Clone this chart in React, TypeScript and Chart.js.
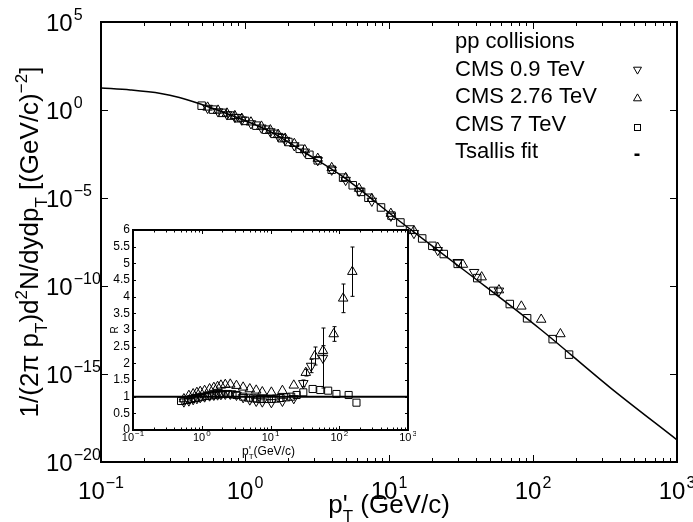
import React, { useEffect, useRef } from 'react';
import { Chart, registerables } from 'chart.js';

Chart.register(...registerables);

const FONT = '"Liberation Sans", Arial, Helvetica, sans-serif';

// Tsallis fit curve (pT in GeV/c, invariant yield)
const fitPt = [0.1, 0.16, 0.26, 0.35, 0.49, 0.88, 1.5, 2.6, 4.6, 12, 36, 112, 340, 1000];
const fitY = [17.8, 13.7, 8.66, 5.13, 2.19, 0.375, 0.0585, 3.85e-3, 2.04e-4, 4.47e-7, 4.8e-10, 3.6e-13, 1.8e-16, 1.8e-19];

// CMS 0.9 TeV
const pt09 = [0.55, 0.65, 0.75, 0.85, 0.95, 1.1, 1.3, 1.5, 1.7, 1.9, 2.2, 2.6, 3.2, 4.0, 5.0, 6.2, 7.6, 10.3, 14.9, 21.8, 30, 39, 58];
const y09 = [1.29, 0.813, 0.552, 0.395, 0.279, 0.171, 0.0977, 0.0598, 0.0327, 0.0193, 9.6e-3, 4.21e-3, 1.38e-3, 3.97e-4, 1.04e-4, 2.51e-5, 6.79e-6, 9.58e-7, 1.0e-7, 1.07e-8, 2.24e-9, 6.07e-10, 5.33e-11];
const r09 = [0.85, 0.88, 0.92, 0.95, 0.98, 1.0, 1.03, 1.05, 1.06, 1.07, 1.08, 1.08, 1.05, 0.98, 0.91, 0.87, 0.85, 0.83, 0.87, 0.95, 1.4, 1.92, 2.16];
const e09 = [0, 0, 0, 0, 0, 0, 0, 0, 0, 0, 0, 0, 0, 0, 0, 0, 0, 0, 0, 0, 0.1, 0.2, 0.9];

// CMS 2.76 TeV
const pt276 = [0.55, 0.65, 0.75, 0.85, 0.95, 1.1, 1.3, 1.5, 1.7, 1.9, 2.2, 2.6, 3.2, 4.0, 5.0, 6.2, 7.6, 10.3, 14.9, 21.8, 32.6, 44, 58, 83, 114, 155];
const y276 = [1.41, 0.953, 0.647, 0.466, 0.328, 0.202, 0.117, 0.0724, 0.0401, 0.0242, 0.0121, 5.35e-3, 1.75e-3, 5.19e-4, 1.40e-4, 3.44e-5, 9.12e-6, 1.30e-6, 1.36e-7, 1.51e-8, 1.66e-9, 3.20e-10, 5.87e-11, 7.0e-12, 1.25e-12, 1.88e-13];
const r276 = [0.93, 1.03, 1.08, 1.12, 1.15, 1.18, 1.23, 1.27, 1.3, 1.34, 1.36, 1.37, 1.33, 1.28, 1.23, 1.19, 1.14, 1.13, 1.18, 1.34, 1.72, 2.22, 2.38, 2.88, 3.95, 4.75];
const e276 = [0, 0, 0, 0, 0, 0, 0, 0, 0, 0, 0, 0, 0, 0, 0, 0, 0, 0, 0, 0, 0.1, 0.27, 0.15, 0.22, 0.43, 0.74];

// CMS 7 TeV
const pt7 = [0.5, 0.6, 0.7, 0.8, 0.9, 1.0, 1.2, 1.4, 1.6, 1.8, 2.0, 2.4, 2.8, 3.2, 4.0, 4.8, 5.6, 6.4, 7.2, 8.8, 10.4, 12, 14, 17, 20, 24, 30, 41, 53, 69, 91, 137, 178];
const y7 = [1.76, 1.05, 0.687, 0.480, 0.340, 0.240, 0.129, 0.0760, 0.0441, 0.0250, 0.0152, 6.22e-3, 2.85e-3, 1.38e-3, 4.06e-4, 1.43e-4, 5.27e-5, 2.23e-5, 1.03e-5, 2.90e-6, 1.00e-6, 4.06e-7, 1.62e-7, 5.02e-8, 1.92e-8, 6.55e-9, 1.81e-9, 2.81e-10, 5.26e-11, 9.44e-12, 1.46e-12, 9.57e-14, 1.26e-14];
const r7 = [0.87, 0.9, 0.93, 0.96, 0.98, 1.0, 1.02, 1.04, 1.06, 1.07, 1.08, 1.08, 1.07, 1.05, 1.0, 0.97, 0.95, 0.94, 0.93, 0.93, 0.93, 0.94, 0.96, 0.98, 1.0, 1.05, 1.13, 1.23, 1.2, 1.18, 1.08, 1.05, 0.82];

// Reference line in the inset
const refPt = [0.1, 1000];
const refR = [1, 1];

// Tick labels
const xTickExps = [-1, 0, 1, 2, 3];
const yTickExps = [-20, -15, -10, -5, 0, 5];
const insetXTickExps = [-1, 0, 1, 2, 3];
const insetYTicks = [0, 0.5, 1, 1.5, 2, 2.5, 3, 3.5, 4, 4.5, 5, 5.5, 6];
const insetYLabels = ['0', '0.5', '1', '1.5', '2', '2.5', '3', '3.5', '4', '4.5', '5', '5.5', '6'];
const legendLabels = ['pp collisions', 'CMS 0.9 TeV', 'CMS 2.76 TeV', 'CMS 7 TeV', 'Tsallis fit'];

type Seg = { t: string; k: 'n' | 'sub' | 'sup'; noAdv?: boolean };

const yTitle: Seg[] = [
  { t: '1/(2π p', k: 'n' },
  { t: 'T', k: 'sub' },
  { t: ')d', k: 'n' },
  { t: '2', k: 'sup' },
  { t: 'N/dydp', k: 'n' },
  { t: 'T', k: 'sub' },
  { t: ' [(GeV/c)', k: 'n' },
  { t: '−2', k: 'sup' },
  { t: ']', k: 'n' },
];
const xTitle: Seg[] = [
  { t: 'p', k: 'n' },
  { t: "'", k: 'n', noAdv: true },
  { t: 'T', k: 'sub' },
  { t: ' (GeV/c)', k: 'n' },
];
const insetXTitle: Seg[] = [
  { t: 'p', k: 'n' },
  { t: "'", k: 'n', noAdv: true },
  { t: 'T', k: 'sub' },
  { t: '(GeV/c)', k: 'n' },
];

function pts(xs: number[], ys: number[]) {
  return xs.map((x, i) => ({ x, y: ys[i] }));
}

function expLabel(e: number) {
  return e < 0 ? '−' + Math.abs(e) : String(e);
}

function drawPower(ctx: CanvasRenderingContext2D, x: number, baseY: number, exp: number, big: number, small: number, raise: number, align: 'center' | 'left') {
  ctx.font = `${big}px ${FONT}`;
  const wb = ctx.measureText('10').width;
  const es = expLabel(exp);
  ctx.font = `${small}px ${FONT}`;
  const we = ctx.measureText(es).width;
  const x0 = align === 'center' ? x - (wb + we + 1) / 2 : x;
  ctx.textAlign = 'left';
  ctx.textBaseline = 'alphabetic';
  ctx.font = `${big}px ${FONT}`;
  ctx.fillText('10', x0, baseY);
  ctx.font = `${small}px ${FONT}`;
  ctx.fillText(es, x0 + wb + 1, baseY - raise);
}

function drawRich(ctx: CanvasRenderingContext2D, segs: Seg[], cx: number, baseY: number, big: number, small: number, drop: number, raise: number) {
  ctx.textAlign = 'left';
  ctx.textBaseline = 'alphabetic';
  const widths = segs.map((s) => {
    ctx.font = `${s.k === 'n' ? big : small}px ${FONT}`;
    return s.noAdv ? 0 : ctx.measureText(s.t).width;
  });
  const total = widths.reduce((a, b) => a + b, 0);
  let x = cx - total / 2;
  segs.forEach((s, i) => {
    ctx.font = `${s.k === 'n' ? big : small}px ${FONT}`;
    const dy = s.k === 'sub' ? drop : s.k === 'sup' ? -raise : 0;
    ctx.fillText(s.t, x, baseY + dy);
    x += widths[i];
  });
}

function drawTri(ctx: CanvasRenderingContext2D, x: number, y: number, r: number, down: boolean) {
  const s = down ? -1 : 1;
  ctx.beginPath();
  ctx.moveTo(x, y - s * r);
  ctx.lineTo(x + r * 0.866, y + s * r * 0.5);
  ctx.lineTo(x - r * 0.866, y + s * r * 0.5);
  ctx.closePath();
  ctx.stroke();
}

const mainDeco = {
  id: 'mainDeco',
  afterDraw(chart: any) {
    const { ctx, chartArea: a } = chart;
    const xs = chart.scales.x;
    const ys = chart.scales.y;
    ctx.save();
    ctx.strokeStyle = '#000';
    ctx.fillStyle = '#000';
    ctx.lineWidth = 1;
    ctx.beginPath();
    for (const d of [-1, 0, 1, 2]) {
      for (let m = 1; m <= 9; m++) {
        const px = Math.round(xs.getPixelForValue(m * Math.pow(10, d))) + 0.5;
        const len = m === 1 ? 7 : 4;
        ctx.moveTo(px, a.bottom);
        ctx.lineTo(px, a.bottom - len);
        ctx.moveTo(px, a.top);
        ctx.lineTo(px, a.top + len);
      }
    }
    for (const e of yTickExps) {
      const py = Math.round(ys.getPixelForValue(Math.pow(10, e))) + 0.5;
      ctx.moveTo(a.left, py);
      ctx.lineTo(a.left + 7, py);
      ctx.moveTo(a.right, py);
      ctx.lineTo(a.right - 7, py);
    }
    ctx.stroke();
    ctx.lineWidth = 2;
    ctx.strokeRect(a.left, a.top, a.right - a.left, a.bottom - a.top);

    for (const e of xTickExps) {
      drawPower(ctx, xs.getPixelForValue(Math.pow(10, e)), a.bottom + 37, e, 24, 16, 11, 'center');
    }
    for (const e of yTickExps) {
      drawPower(ctx, 46, ys.getPixelForValue(Math.pow(10, e)) + 8.5, e, 24, 16, 10.5, 'left');
    }

    // axis titles
    drawRich(ctx, xTitle, (a.left + a.right) / 2, a.bottom + 51, 26, 17, 9, 11);
    ctx.save();
    ctx.translate(38, (a.top + a.bottom) / 2);
    ctx.rotate(-Math.PI / 2);
    drawRich(ctx, yTitle, 0, 0, 26, 17, 9, 11);
    ctx.restore();

    // legend
    ctx.font = `22px ${FONT}`;
    ctx.textAlign = 'left';
    ctx.textBaseline = 'alphabetic';
    const baselines = [48, 75.5, 103, 130.5, 158];
    legendLabels.forEach((t, i) => ctx.fillText(t, 455, baselines[i]));
    ctx.lineWidth = 1;
    drawTri(ctx, 637.5, 69.5, 4.6, true);
    drawTri(ctx, 637.5, 98.5, 4.6, false);
    ctx.strokeRect(634.5, 124.5, 6, 6);
    ctx.fillRect(634.5, 153.5, 5, 2.5);
    ctx.restore();
  },
};

const insetDeco = {
  id: 'insetDeco',
  beforeDraw(chart: any) {
    const { ctx, chartArea: a } = chart;
    ctx.save();
    ctx.fillStyle = '#fff';
    ctx.fillRect(a.left, a.top, a.right - a.left, a.bottom - a.top);
    ctx.restore();
  },
  afterDatasetsDraw(chart: any) {
    const { ctx } = chart;
    const xs = chart.scales.x;
    const ys = chart.scales.y;
    ctx.save();
    ctx.strokeStyle = '#000';
    ctx.lineWidth = 1;
    ctx.beginPath();
    const sets: [number[], number[], number[]][] = [[pt09, r09, e09], [pt276, r276, e276]];
    for (const [p, r, e] of sets) {
      p.forEach((v, i) => {
        if (!e[i]) return;
        const px = Math.round(xs.getPixelForValue(v)) + 0.5;
        const y1 = ys.getPixelForValue(r[i] + e[i]);
        const y2 = ys.getPixelForValue(r[i] - e[i]);
        ctx.moveTo(px, y1);
        ctx.lineTo(px, y2);
        ctx.moveTo(px - 2, y1);
        ctx.lineTo(px + 2, y1);
        ctx.moveTo(px - 2, y2);
        ctx.lineTo(px + 2, y2);
      });
    }
    ctx.stroke();
    ctx.restore();
  },
  afterDraw(chart: any) {
    const { ctx, chartArea: a } = chart;
    const xs = chart.scales.x;
    const ys = chart.scales.y;
    ctx.save();
    ctx.strokeStyle = '#000';
    ctx.fillStyle = '#000';
    ctx.lineWidth = 1;
    ctx.beginPath();
    for (const d of [-1, 0, 1, 2]) {
      for (let m = 1; m <= 9; m++) {
        const px = Math.round(xs.getPixelForValue(m * Math.pow(10, d))) + 0.5;
        const len = m === 1 ? 4 : 2.5;
        ctx.moveTo(px, a.bottom);
        ctx.lineTo(px, a.bottom - len);
        ctx.moveTo(px, a.top);
        ctx.lineTo(px, a.top + len);
      }
    }
    for (const v of insetYTicks) {
      const py = Math.round(ys.getPixelForValue(v)) + 0.5;
      ctx.moveTo(a.left, py);
      ctx.lineTo(a.left + 3, py);
      ctx.moveTo(a.right, py);
      ctx.lineTo(a.right - 3, py);
    }
    ctx.stroke();
    ctx.lineWidth = 2;
    ctx.strokeRect(a.left, a.top, a.right - a.left, a.bottom - a.top);

    ctx.font = `12px ${FONT}`;
    ctx.textAlign = 'right';
    ctx.textBaseline = 'middle';
    insetYTicks.forEach((v, i) => ctx.fillText(insetYLabels[i], a.left - 3, ys.getPixelForValue(v)));
    for (const e of insetXTickExps) {
      drawPower(ctx, xs.getPixelForValue(Math.pow(10, e)), a.bottom + 11, e, 11, 8, 5, 'center');
    }
    drawRich(ctx, insetXTitle, (a.left + a.right) / 2 - 2, a.bottom + 25, 12, 8, 4, 5);
    ctx.save();
    ctx.translate(a.left - 15, (a.top + a.bottom) / 2);
    ctx.rotate(-Math.PI / 2);
    ctx.font = `10px ${FONT}`;
    ctx.textAlign = 'center';
    ctx.textBaseline = 'alphabetic';
    ctx.fillText('R', 0, 0);
    ctx.restore();
    ctx.restore();
  },
};

const markerBase = {
  showLine: false,
  borderColor: '#000',
  backgroundColor: 'rgba(0,0,0,0)',
  pointBorderWidth: 1,
};

export default function App() {
  const mainRef = useRef<HTMLCanvasElement>(null);
  const insetRef = useRef<HTMLCanvasElement>(null);

  useEffect(() => {
    const main = new Chart(mainRef.current as HTMLCanvasElement, {
      type: 'scatter',
      data: {
        datasets: [
          {
            label: 'Tsallis fit',
            data: pts(fitPt, fitY),
            showLine: true,
            borderColor: '#000',
            borderWidth: 1.5,
            pointRadius: 0,
            cubicInterpolationMode: 'monotone',
          } as any,
          { ...markerBase, label: 'CMS 0.9 TeV', data: pts(pt09, y09), pointStyle: 'triangle', pointRotation: 180, pointRadius: 5.5 } as any,
          { ...markerBase, label: 'CMS 2.76 TeV', data: pts(pt276, y276), pointStyle: 'triangle', pointRadius: 5.5 } as any,
          { ...markerBase, label: 'CMS 7 TeV', data: pts(pt7, y7), pointStyle: 'rect', pointRadius: 5.3 } as any,
        ],
      },
      options: {
        responsive: false,
        animation: false,
        devicePixelRatio: 1,
        events: [],
        layout: { padding: { left: 101, top: 22, right: 16, bottom: 60 } },
        plugins: { legend: { display: false }, tooltip: { enabled: false } },
        scales: {
          x: { type: 'logarithmic', min: 0.1, max: 1000, display: false },
          y: { type: 'logarithmic', min: 1e-20, max: 1e5, display: false },
        },
      },
      plugins: [mainDeco],
    });

    const inset = new Chart(insetRef.current as HTMLCanvasElement, {
      type: 'scatter',
      data: {
        datasets: [
          {
            label: 'R = 1',
            data: pts(refPt, refR),
            showLine: true,
            borderColor: '#000',
            borderWidth: 2,
            pointRadius: 0,
          } as any,
          { ...markerBase, label: '0.9', data: pts(pt09, r09), pointStyle: 'triangle', pointRotation: 180, pointRadius: 5.5 } as any,
          { ...markerBase, label: '2.76', data: pts(pt276, r276), pointStyle: 'triangle', pointRadius: 5.5 } as any,
          { ...markerBase, label: '7', data: pts(pt7, r7), pointStyle: 'rect', pointRadius: 5 } as any,
        ],
      },
      options: {
        responsive: false,
        animation: false,
        devicePixelRatio: 1,
        events: [],
        layout: { padding: { left: 33, top: 12, right: 8, bottom: 38 } },
        plugins: { legend: { display: false }, tooltip: { enabled: false } },
        scales: {
          x: { type: 'logarithmic', min: 0.1, max: 1000, display: false },
          y: { type: 'linear', min: 0, max: 6, display: false },
        },
      },
      plugins: [insetDeco],
    });

    return () => {
      main.destroy();
      inset.destroy();
    };
  }, []);

  return (
    <div style={{ position: 'absolute', left: 0, top: 0, width: 693, height: 522, background: '#fff', overflow: 'hidden' }}>
      <canvas ref={mainRef} width={693} height={522} style={{ position: 'absolute', left: 0, top: 0 }} />
      <canvas ref={insetRef} width={316} height={250} style={{ position: 'absolute', left: 100, top: 218 }} />
    </div>
  );
}
